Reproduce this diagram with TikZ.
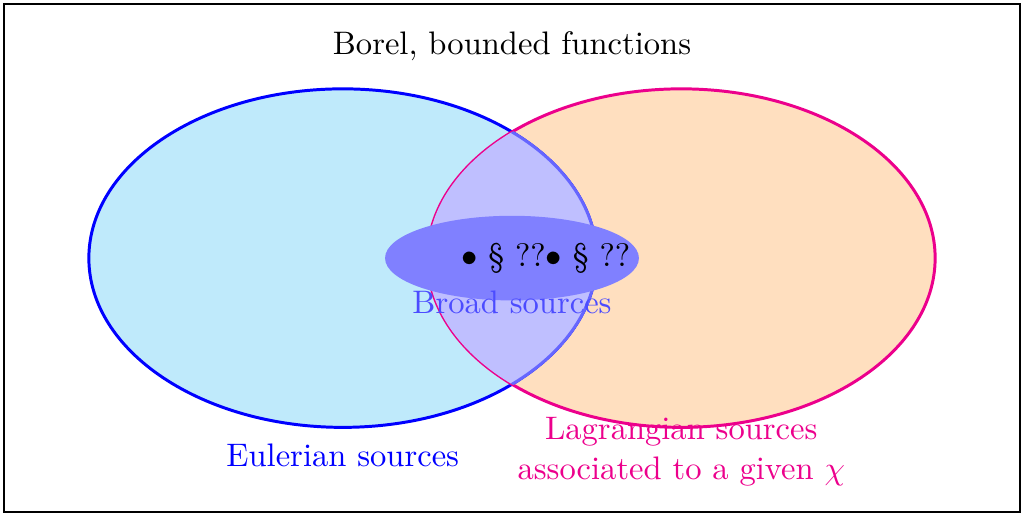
\documentclass[tikz,border=0pt,11pt]{standalone}
\usepackage{amsmath}
\usepackage{amssymb}
\usepackage{xcolor}
\usepackage{tikz}
\usetikzlibrary{positioning}

\begin{document}
\begin{tikzpicture}
\useasboundingbox (-6.05,-3.05) rectangle (6.05,3.05);
% Ambient space
\draw[semithick] (-6,-3) rectangle (6,3);
\node (borel) at (0,2.5) {Borel, bounded functions};

% Eulerian (left) and Lagrangian (right) sets
\fill[cyan!25] (-2,0) ellipse (3 and 2);
\fill[orange!25] (2,0) ellipse (3 and 2);
\draw[line width=1pt, blue] (-2,0) ellipse (3 and 2);
\draw[line width=1pt, magenta] (2,0) ellipse (3 and 2);

% Intersection
\begin{scope}
\clip (-2,0) ellipse (3 and 2);
\fill[blue!25] (2,0) ellipse (3 and 2);
\end{scope}
\begin{scope}
\clip (2,0) ellipse (3 and 2);
\draw[line width=1pt, blue!60] (-2,0) ellipse (3 and 2);
\end{scope}

% Broad sources
\fill[blue!50] (0,0) ellipse (1.5 and 0.5);
\node (refs) at (0.4,0) {$\bullet$ \S~??$\bullet$ \S~??};
\node[blue!70] (broad) at (0,-0.52) {Broad sources};

% Labels
\node[blue] (euler) at (-2,-2.33) {Eulerian sources};
\node[magenta, align=center] (lagr) at (2,-2.29) {Lagrangian sources\\associated to a given $\chi$};
\end{tikzpicture}
\end{document}
